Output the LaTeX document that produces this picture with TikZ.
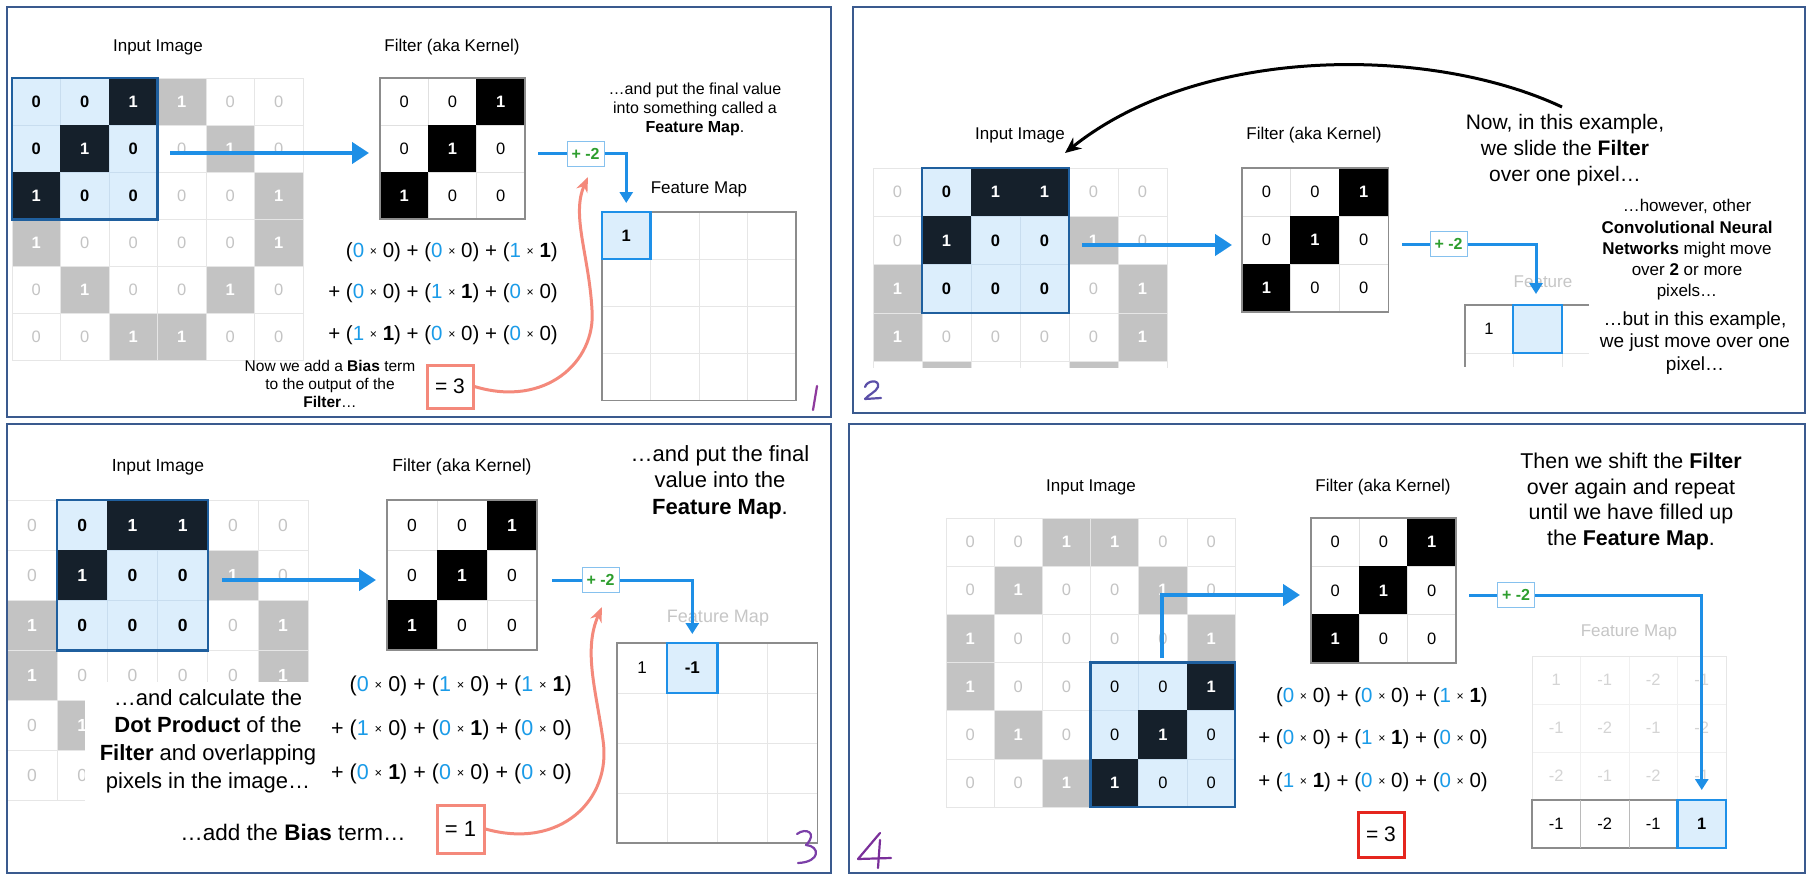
\documentclass[tikz,border=0pt]{standalone}
\usepackage{fontspec}
\setmainfont{Liberation Sans}
\usetikzlibrary{arrows.meta}

\definecolor{gridc}{HTML}{E6E6E6}
\definecolor{zerotext}{HTML}{C4C4C4}
\definecolor{grayfill}{HTML}{C3C3C3}
\definecolor{hlfill}{HTML}{DCEEFC}
\definecolor{hlgrid}{HTML}{C8DDEF}
\definecolor{darkc}{HTML}{15202B}
\definecolor{hlborder}{HTML}{1F5F9E}
\definecolor{fgrid}{HTML}{E0E0E0}
\definecolor{fborderc}{HTML}{8C8C8C}
\definecolor{arrowblue}{HTML}{1E8FE6}
\definecolor{fmblue}{HTML}{1E90E8}
\definecolor{biasedge}{HTML}{86C1EE}
\definecolor{biasgreen}{HTML}{2E9E2E}
\definecolor{salmon}{HTML}{F4897B}
\definecolor{eqred}{HTML}{E5261E}
\definecolor{panelc}{HTML}{3A5A8E}
\definecolor{faded}{HTML}{C6C6C6}
\definecolor{fadedv}{HTML}{D4D4D4}
\definecolor{fblue}{HTML}{1A9BE8}
\definecolor{handa}{HTML}{8E3A9D}
\definecolor{handb}{HTML}{5B4FA8}
\definecolor{handc}{HTML}{7B3FA8}
\definecolor{handd}{HTML}{7A2F9A}

\newcommand\X{\raisebox{0.08em}{\scalebox{0.6}{×}}}
\newcommand\pr[2]{(\textcolor{fblue}{#1} \X{} #2)}
\newcommand\K{\textbf{1}}
\newcommand\fs[2]{\fontsize{#1}{#2}\selectfont}
\newcommand\hidecond{0}

% input image grid: prefix, x0, y0, cw, ch, hr, hc, hl-zero font, size
\newcommand\ingrid[9]{%
  \foreach \row [count=\r from 0] in {{0,0,1,1,0,0},{0,1,0,0,1,0},{1,0,0,0,0,1},{1,0,0,0,0,1},{0,1,0,0,1,0},{0,0,1,1,0,0}}{%
    \foreach \v [count=\c from 0] in \row {%
      \pgfmathtruncatemacro\inh{(\r>=#6)*(\r<#6+3)*(\c>=#7)*(\c<#7+3)}%
      \pgfmathtruncatemacro\hid{\hidecond}%
      \ifnum\inh=1
        \ifnum\v=1 \def\cst{dkcell}\def\cf{\bfseries}\else\def\cst{hlcell}\def\cf{#8}\fi
      \else
        \ifnum\v=1 \def\cst{gycell}\def\cf{\bfseries}\else\def\cst{zrcell}\def\cf{}\fi
      \fi
      \ifnum\hid=1 \def\ct{}\else\def\ct{\v}\fi
      \node[\cst, minimum width=#4pt, minimum height=#5pt, font=\fs{#9}{#9}\cf] (#1-\r-\c) at ({#2+(\c+0.5)*#4},{#3+(\r+0.5)*#5}) {\ct};
    }%
  }%
  \draw[hlbox] ({#2+#7*#4},{#3+#6*#5}) rectangle ++({3*#4},{3*#5});
}

% filter grid: prefix, x0, y0, cw, ch, size
\newcommand\fgrid[6]{%
  \foreach \row [count=\r from 0] in {{0,0,1},{0,1,0},{1,0,0}}{%
    \foreach \v [count=\c from 0] in \row {%
      \ifnum\v=1 \def\cst{fkcell}\def\cf{\bfseries}\else\def\cst{fwcell}\def\cf{}\fi
      \node[\cst, minimum width=#4pt, minimum height=#5pt, font=\fs{#6}{#6}\cf] (#1-\r-\c) at ({#2+(\c+0.5)*#4},{#3+(\r+0.5)*#5}) {\v};
    }%
  }%
  \draw[fborder] (#2,#3) rectangle ++({3*#4},{3*#5});
}

% feature map grid: prefix, x0, y0, cw, ch, line colour
\newcommand\fmgrid[6]{%
  \foreach \r in {0,1,2,3}{\foreach \c in {0,1,2,3}{%
    \node[fmcell, draw=#6, minimum width=#4pt, minimum height=#5pt] (#1-\r-\c) at ({#2+(\c+0.5)*#4},{#3+(\r+0.5)*#5}) {};
  }}%
}

\begin{document}
\begin{tikzpicture}[x=1pt,y=-1pt,
  cellbase/.style={draw=gridc, line width=0.8pt, inner sep=0pt, outer sep=0pt},
  zrcell/.style={cellbase, fill=white, text=zerotext},
  gycell/.style={cellbase, fill=grayfill, text=white},
  hlcell/.style={cellbase, draw=hlgrid, fill=hlfill, text=black},
  dkcell/.style={cellbase, draw=darkc, fill=darkc, text=white},
  fwcell/.style={cellbase, draw=fgrid, fill=white, text=black},
  fkcell/.style={cellbase, draw=black, fill=black, text=white},
  fmcell/.style={line width=0.8pt, inner sep=0pt, outer sep=0pt},
  hlbox/.style={draw=hlborder, line width=2.5pt},
  fborder/.style={draw=fborderc, line width=1.2pt},
  fmedge/.style={draw=fborderc, line width=1.2pt},
  fmhl/.style={draw=fmblue, fill=hlfill, line width=2.5pt},
  bigarrow/.style={draw=arrowblue, line width=4.5pt, -{Triangle[length=17pt,width=21pt]}},
  biasline/.style={draw=arrowblue, line width=3pt},
  biasarrow/.style={biasline, -{Triangle[length=11pt,width=13pt]}},
  biasbox/.style={draw=biasedge, line width=1pt, fill=white, minimum width=37pt, minimum height=25pt, inner sep=0pt, text=biasgreen, font=\fs{16}{16}\bfseries},
  eqbox/.style={line width=3pt, fill=white, inner sep=0pt, font=\fs{21}{21}},
  lbl/.style={inner sep=0pt, font=\fs{17}{17}},
  formula/.style={anchor=east, inner sep=0pt},
  note/.style={align=center, inner sep=0pt},
  panelbox/.style={draw=panelc, line width=2pt},
  hand/.style={line width=2.2pt, line cap=round, line join=round},
  salmoncurve/.style={draw=salmon, line width=3pt, -{Stealth[length=15pt,width=12pt]}},
  blackcurve/.style={draw=black, line width=3pt, -{Stealth[length=16pt,width=14pt]}}
]
\fill[white] (0,0) rectangle (1811,880);
\useasboundingbox (0,0) rectangle (1811,880);

% ================= PANEL 1 =================
\ingrid{pa}{12}{78}{48.5}{47.1}{0}{0}{\bfseries}{16.5}
\fgrid{fa}{380}{78}{48.3}{47}{16.5}
\node[lbl] (la-in) at (158,47) {Input Image};
\node[lbl] (la-f) at (452,47) {Filter (aka Kernel)};
\coordinate (aa-s) at (170,153);
\coordinate (aa-e) at (369,153);
\draw[bigarrow] (aa-s) -- (aa-e);
\node[formula, font=\fs{20.5}{24}] (fa-l1) at (558,252) {\pr00 + \pr00 + \pr1\K};
\node[formula, font=\fs{20.5}{24}] (fa-l2) at (558,293) {+ \pr00 + \pr1\K{} + \pr00};
\node[formula, font=\fs{20.5}{24}] (fa-l3) at (558,335) {+ \pr1\K{} + \pr00 + \pr00};
\node[eqbox, draw=salmon, minimum width=46pt, minimum height=43pt] (eqa) at (450,386.5) {= 3};
\node[note, font=\fs{15.5}{18}] (na-bias) at (330,384) {Now we add a \textbf{Bias} term\\to the output of the\\\textbf{Filter}…};
\node[biasbox] (biasa) at (585.5,153.5) {+ -2};
\coordinate (ba-s) at (538,153.5);
\draw[biasline] (ba-s) -- (biasa.west);
\fmgrid{fma}{602}{212}{48.5}{47.2}{gridc}
\draw[fmedge] (602,212) rectangle ++(194,188.8);
\draw[fmhl] (fma-0-0.north west) rectangle (fma-0-0.south east);
\node[font=\fs{16.5}{16.5}\bfseries] (fva) at (fma-0-0) {1};
\draw[biasarrow, shorten >=9pt] (biasa.east) -| (fma-0-0.north);
\node[lbl] (la-fm) at (699,189) {Feature Map};
\node[note, font=\fs{16}{19}] (na-put) at (695,109) {…and put the final value\\into something called a\\\textbf{Feature Map}.};
\coordinate (ca-e) at (588,177);
\draw[salmoncurve] (eqa.east) .. controls (545,408) and (596,362) .. (592,310) .. controls (589,255) and (571,215) .. (ca-e);
\draw[hand, handa] (817,386) -- (813,410);

% ================= PANEL 2 =================
\begin{scope}
\clip (855,150) rectangle (1180,367.5);
\renewcommand\hidecond{(\r>=4)}
\ingrid{pb}{873}{168}{49}{48.3}{0}{1}{\bfseries}{16.5}
\end{scope}
\fgrid{fb}{1242}{168}{48.7}{48}{16.5}
\node[lbl] (lb-in) at (1020,135) {Input Image};
\node[lbl] (lb-f) at (1314,135) {Filter (aka Kernel)};
\coordinate (ab-s) at (1082,245);
\coordinate (ab-e) at (1232,245);
\draw[bigarrow] (ab-s) -- (ab-e);
\node[biasbox] (biasb) at (1448.5,244) {+ -2};
\coordinate (bb-s) at (1402,244);
\draw[biasline] (bb-s) -- (biasb.west);
\node[lbl, text=faded] (lb-fm) at (1543,282) {Feature};
\node[fmcell, draw=gridc, minimum width=48pt, minimum height=48pt, font=\fs{16.5}{16.5}] (fmb-0-0) at (1489,329) {1};
\node[fmcell, minimum width=49pt, minimum height=48pt] (fmb-0-1) at (1537.5,329) {};
\draw[gridc, line width=0.8pt] (1465,353) -- (1589,353) (1513,353) -- (1513,367) (1562,353) -- (1562,367);
\draw[fmedge] (1589,305) -- (1465,305) -- (1465,367);
\draw[fmhl] (fmb-0-1.north west) rectangle (fmb-0-1.south east);
\coordinate (bb-e) at (1536,294);
\draw[biasarrow] (biasb.east) -| (bb-e);
\node[note, font=\fs{21}{26}] (nb-now) at (1565,150) {Now, in this example,\\we slide the \textbf{Filter}\\over one pixel…};
\node[note, font=\fs{17}{21.3}] (nb-how) at (1687,250) {…however, other\\\textbf{Convolutional Neural}\\\textbf{Networks} might move\\over \textbf{2} or more\\pixels…};
\node[note, font=\fs{19}{22.5}] (nb-but) at (1695,343) {…but in this example,\\we just move over one\\pixel…};
\coordinate (kb-s) at (1562,107);
\coordinate (kb-e) at (1065,153);
\draw[blackcurve] (kb-s) .. controls (1430,45) and (1200,45) .. (kb-e);
\draw[hand, handb] (865,387) .. controls (867,380) and (880,379) .. (878,387) .. controls (876,392) and (868,395) .. (865,399) -- (881,398);

% ================= PANEL 3 =================
\begin{scope}
\clip (8,490) rectangle (320,802);
\renewcommand\hidecond{(\r>=4)*(\c>=2)}
\ingrid{pc}{7}{500}{50.2}{50.1}{0}{1}{\bfseries}{17.5}
\end{scope}
\fill[white] (85,682) rectangle (318,806);
\fgrid{fc}{387}{500}{50}{50}{17.5}
\node[lbl, font=\fs{17.5}{17.5}] (lc-in) at (158,467) {Input Image};
\node[lbl, font=\fs{17.5}{17.5}] (lc-f) at (462,467) {Filter (aka Kernel)};
\coordinate (ac-s) at (222,580);
\coordinate (ac-e) at (376,580);
\draw[bigarrow] (ac-s) -- (ac-e);
\node[formula, font=\fs{21.5}{25}] (fc-l1) at (572,686) {\pr00 + \pr10 + \pr1\K};
\node[formula, font=\fs{21.5}{25}] (fc-l2) at (572,730) {+ \pr10 + \pr0\K{} + \pr00};
\node[formula, font=\fs{21.5}{25}] (fc-l3) at (572,774) {+ \pr0\K{} + \pr00 + \pr00};
\node[eqbox, draw=salmon, minimum width=47pt, minimum height=48pt, font=\fs{22}{22}] (eqc) at (460.5,829) {= 1};
\node[note, font=\fs{22}{27.7}] (nc-dot) at (208,741) {…and calculate the\\\textbf{Dot Product} of the\\\textbf{Filter} and overlapping\\pixels in the image…};
\node[note, font=\fs{22.5}{22.5}] (nc-bias) at (293,832) {…add the \textbf{Bias} term…};
\node[biasbox] (biasc) at (600.5,580) {+ -2};
\coordinate (bc-s) at (552,580);
\draw[biasline] (bc-s) -- (biasc.west);
\fmgrid{fmc}{617}{643}{50.2}{50}{gridc}
\draw[fmedge] (617,643) rectangle ++(200.8,200);
\node[font=\fs{17}{17}] (fvc0) at (fmc-0-0) {1};
\draw[fmhl] (fmc-0-1.north west) rectangle (fmc-0-1.south east);
\node[font=\fs{17}{17}\bfseries] (fvc1) at (fmc-0-1) {-1};
\node[lbl, text=faded, font=\fs{18}{18}] (lc-fm) at (718,618) {Feature Map};
\draw[biasarrow, shorten >=9pt] (biasc.east) -| (fmc-0-1.north);
\node[note, font=\fs{22}{26.5}] (nc-put) at (720,482) {…and put the final\\value into the\\\textbf{Feature Map}.};
\coordinate (cc-e) at (602,607);
\draw[salmoncurve] (eqc.east) .. controls (560,850) and (612,800) .. (603,740) .. controls (596,690) and (583,650) .. (cc-e);
\draw[hand, handc] (797,834) .. controls (806,827) and (818,833) .. (806,845) .. controls (820,846) and (821,862) .. (798,863);

% ================= PANEL 4 =================
\ingrid{pd}{946}{518}{48.2}{48.2}{3}{3}{}{16.5}
\fgrid{fd}{1311}{518}{48.3}{48.3}{16.5}
\node[lbl] (ld-in) at (1091,487) {Input Image};
\node[lbl] (ld-f) at (1383,487) {Filter (aka Kernel)};
\coordinate (ad-s) at (1162,658);
\coordinate (ad-e) at (1300,595);
\draw[bigarrow] (ad-s) |- (ad-e);
\node[formula, font=\fs{20.5}{24}] (fd-l1) at (1488,697) {\pr00 + \pr00 + \pr1\K};
\node[formula, font=\fs{20.5}{24}] (fd-l2) at (1488,739) {+ \pr00 + \pr1\K{} + \pr00};
\node[formula, font=\fs{20.5}{24}] (fd-l3) at (1488,782) {+ \pr1\K{} + \pr00 + \pr00};
\node[eqbox, draw=eqred, minimum width=46pt, minimum height=45pt] (eqd) at (1381,834.5) {= 3};
\node[biasbox] (biasd) at (1516,595) {+ -2};
\coordinate (bd-s) at (1469,595);
\draw[biasline] (bd-s) -- (biasd.west);
\fmgrid{fmd}{1532}{656}{48.5}{48}{gridc!60}
\draw[gridc, line width=1pt] (1532,656) rectangle ++(194,144);
\foreach \row [count=\r from 0] in {{1,-1,-2,-1},{-1,-2,-1,-2},{-2,-1,-2,-1}}{
  \foreach \v [count=\c from 0] in \row {
    \node[text=fadedv, font=\fs{16.5}{16.5}] (fvd-\r-\c) at (fmd-\r-\c) {\v};
  }
}
\draw[fmedge] (1532,800) rectangle ++(194,48);
\draw[fborderc!60, line width=0.8pt] (1580.5,800) -- (1580.5,848) (1629,800) -- (1629,848);
\node[font=\fs{16.5}{16.5}] (fvd-3-0) at (fmd-3-0) {-1};
\node[font=\fs{16.5}{16.5}] (fvd-3-1) at (fmd-3-1) {-2};
\node[font=\fs{16.5}{16.5}] (fvd-3-2) at (fmd-3-2) {-1};
\draw[fmhl] (fmd-3-3.north west) rectangle (fmd-3-3.south east);
\node[font=\fs{16.5}{16.5}\bfseries] (fvd-3-3) at (fmd-3-3) {1};
\node[lbl, text=faded] (ld-fm) at (1629,632) {Feature Map};
\draw[biasarrow, shorten >=10pt] (biasd.east) -| (fmd-3-3.north);
\node[note, font=\fs{21.4}{25.7}] (nd-then) at (1631,501.5) {Then we shift the \textbf{Filter}\\over again and repeat\\until we have filled up\\the \textbf{Feature Map}.};
\draw[hand, handd] (880,833) -- (858,859) -- (891,858);
\draw[hand, handd] (880,840) -- (878,868);

% ================= PANEL FRAMES =================
\draw[panelbox] (7,7) rectangle (831,417);
\draw[panelbox] (853,7) rectangle (1805,413);
\draw[panelbox] (7,424) rectangle (831,873);
\draw[panelbox] (849,424) rectangle (1805,873);
\end{tikzpicture}
\end{document}
